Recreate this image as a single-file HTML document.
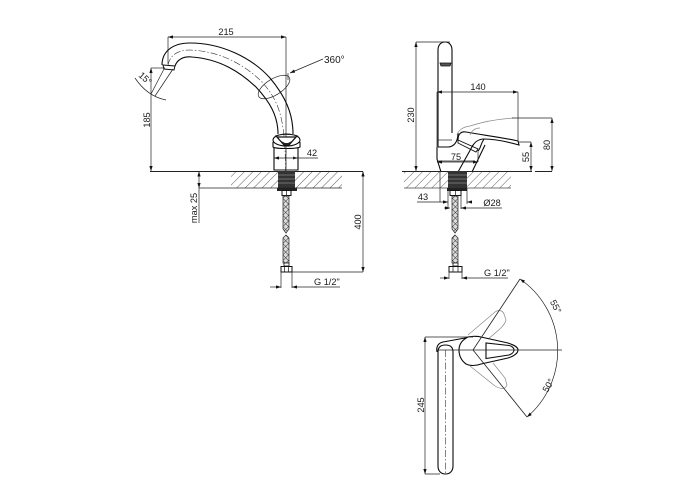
<!DOCTYPE html>
<html><head><meta charset="utf-8"><style>
html,body{margin:0;padding:0;background:#fff}
svg{display:block}
text{font-family:"Liberation Sans",sans-serif;font-size:9.200px;fill:#1a1a1a}
.o{fill:none;stroke:#0a0a0a;stroke-width:1.100}
.t{fill:none;stroke:#222;stroke-width:.7}
.c{fill:none;stroke:#333;stroke-width:.6;stroke-dasharray:7 2 1.500 2}
.g{fill:none;stroke:#888;stroke-width:.7}
</style></head><body>
<svg width="700" height="500" viewBox="0 0 700 500" xmlns="http://www.w3.org/2000/svg">
<defs>
<pattern id="hatch" width="6" height="6" patternUnits="userSpaceOnUse" patternTransform="rotate(45)"><line x1="0" y1="0" x2="0" y2="6" stroke="#333" stroke-width=".8"/></pattern>
<pattern id="hose" width="4" height="4" patternUnits="userSpaceOnUse" patternTransform="rotate(45)"><rect width="4" height="4" fill="#ddd"/><path d="M0 0H4M0 0V4" stroke="#333" stroke-width="1"/></pattern>
<marker id="a" viewBox="0 0 6 4" refX="6" refY="2" markerWidth="5" markerHeight="3.400" orient="auto-start-reverse" markerUnits="userSpaceOnUse"><path d="M0 0L6 2L0 4Z" fill="#111"/></marker>
</defs>

<!-- LEFT VIEW -->
<rect x="231" y="172" width="111" height="16" fill="url(#hatch)"/>
<path class="t" d="M168 37V64M286 37V172"/>
<path class="t" d="M168 37H286" marker-start="url(#a)" marker-end="url(#a)"/>
<text x="226" y="35" text-anchor="middle">215</text>
<ellipse class="t" cx="274" cy="87" rx="18" ry="8" transform="rotate(-32 274 87)"/>
<path class="o" d="M162 65C162 52 172 43 190 43C222 43 252 58 270 78C285 96 293 113 293 134"/>
<path class="o" d="M175 66C177 60 183 56 192 57C220 59 240 72 256 87C270 102 278 116 278 134"/>
<path class="c" d="M168 65C170 55 178 50 190 50C220 51 245 65 262 82C278 100 285.500 116 285.500 172"/>
<path d="M163 65L175 66L174 70L164 69Z" fill="#fff" stroke="#111" stroke-width="1"/>
<path class="t" d="M151 68H165"/>
<path class="t" d="M151 68V171" marker-start="url(#a)" marker-end="url(#a)"/>
<text transform="translate(150,120) rotate(-90)" text-anchor="middle">185</text>
<path class="t" d="M164 69L151 94M173 69L155 96M135 78C141 87 151 97 166 100"/>
<text transform="translate(138,76) rotate(42)">15°</text>
<path class="t" d="M323 59L290 73" marker-end="url(#a)"/>
<path class="t" d="M288 73V80"/>
<text x="324" y="63" style="font-size:10px">360°</text>
<ellipse class="o" cx="286.500" cy="140" rx="13.500" ry="6" fill="#fff"/>
<path class="o" d="M273 142V147C276 149 296 149 300 147V142"/>
<path d="M277 137H296L289 145H284Z" fill="#fff" stroke="#111" stroke-width="1.300"/>
<path d="M281 141L284 145H289L292 141L288 143H285Z" fill="#222"/>
<path class="t" d="M275 136C280 134 293 134 298 136"/>
<path class="o" d="M274 148V170H298V148"/>
<path class="t" d="M274 158H318" marker-start="url(#a)"/>
<path d="M298 158L293 156.500V159.500Z" fill="#222"/>
<text x="312" y="156" text-anchor="middle">42</text>
<path class="c" d="M286 148V196"/>
<path d="M150 171.500H363" stroke="#222" stroke-width="1"/>
<rect x="278" y="171" width="17" height="18" fill="#333"/>
<path d="M278 175H295M278 179H295M278 183H295" stroke="#888" stroke-width=".8"/>
<rect x="277" y="188" width="20" height="3" fill="#222"/>
<rect x="282" y="190.500" width="9" height="5" fill="#fff" stroke="#111"/>
<path d="M286.500 191V195" stroke="#111" stroke-width=".7"/>
<path d="M283 196H289V229L286 233L283 229Z" fill="url(#hose)" stroke="#222" stroke-width=".7"/>
<path d="M283 238L286 235L289 238V263H283Z" fill="url(#hose)" stroke="#222" stroke-width=".7"/>
<rect x="284" y="263" width="5" height="3" fill="#fff" stroke="#111" stroke-width=".8"/>
<rect x="281" y="266.500" width="11" height="5.500" fill="#fff" stroke="#111"/>
<path d="M284.500 267V272M288.500 267V272" stroke="#111" stroke-width=".7"/>
<path class="t" d="M199 188H342"/>
<path class="t" d="M199 171.500V188" marker-start="url(#a)" marker-end="url(#a)"/>
<path class="t" d="M199 188V223"/>
<text transform="translate(197,208) rotate(-90)" text-anchor="middle">max 25</text>
<path class="t" d="M292 272H363"/>
<path class="t" d="M363 171.500V272" marker-start="url(#a)" marker-end="url(#a)"/>
<text transform="translate(361,222) rotate(-90)" text-anchor="middle">400</text>
<path class="t" d="M281 272V288M292 272V288"/>
<path class="t" d="M270 287H281" marker-end="url(#a)"/>
<path class="t" d="M340 287H292" marker-end="url(#a)"/>
<text x="314" y="285">G 1/2"</text>

<!-- RIGHT VIEW -->
<rect x="404" y="172" width="107" height="16" fill="url(#hatch)"/>
<path class="o" d="M438 147V50C438 45 441 42 445 42C449 42 452 45 452 50V133"/>
<path d="M440 63H451L450 66H441Z" fill="#555" stroke="#111" stroke-width=".8"/>
<path class="t" d="M438 140H452"/>
<path class="o" d="M438 147H448C453 147 458 143 458 133"/>
<path class="o" d="M437 147V159L441 172"/>
<path class="t" d="M437 161H475"/>
<path class="o" d="M458 140C458 134 461 131 466 132C482 135 500 137 518 141L519 145C505 141 494 139 484 139C478 139 474 143 472 147"/>
<path d="M458 140L478 149L476 152L458 143Z" fill="#fff" stroke="#111" stroke-width=".9"/>
<path class="o" d="M484 139C480 145 481 148 478 151"/>
<path class="o" d="M458 172L473 145M472 172L485 145"/>
<path class="g" d="M457 135C458 131 462 127 470 126C485 121 498 119 514 118M470 135C472 130 476 128 480 128"/>
<path class="t" d="M416 42H450"/>
<path class="t" d="M416 42V171" marker-start="url(#a)" marker-end="url(#a)"/>
<text transform="translate(414,115) rotate(-90)" text-anchor="middle">230</text>
<path class="t" d="M437 92V147M518 92V142"/>
<path class="t" d="M437 92H518" marker-start="url(#a)" marker-end="url(#a)"/>
<text x="478" y="90" text-anchor="middle">140</text>
<path class="t" d="M478 150V162"/>
<path class="t" d="M437 162H478" marker-start="url(#a)" marker-end="url(#a)"/>
<text x="456" y="160" text-anchor="middle">75</text>
<path class="t" d="M518 142H531M512 118H552"/>
<path class="t" d="M531 142V171" marker-start="url(#a)" marker-end="url(#a)"/>
<text transform="translate(529,157) rotate(-90)" text-anchor="middle">55</text>
<path class="t" d="M552 118V171" marker-start="url(#a)" marker-end="url(#a)"/>
<text transform="translate(550,145) rotate(-90)" text-anchor="middle">80</text>
<path d="M402 171.500H532M535 171.500H552" stroke="#222" stroke-width="1"/>
<path d="M404 188H511" stroke="#444" stroke-width=".7"/>
<rect x="448" y="171" width="19" height="18" fill="#333"/>
<path d="M448 175H467M448 179H467M448 183H467" stroke="#888" stroke-width=".8"/>
<rect x="447" y="188" width="20" height="3" fill="#222"/>
<rect x="450" y="190.500" width="11" height="5" fill="#fff" stroke="#111"/>
<path d="M455.500 191V195" stroke="#111" stroke-width=".7"/>
<path d="M452 196H458V229L455 233L452 229Z" fill="url(#hose)" stroke="#222" stroke-width=".7"/>
<path d="M452 238L455 235L458 238V263H452Z" fill="url(#hose)" stroke="#222" stroke-width=".7"/>
<rect x="453" y="263" width="5" height="3" fill="#fff" stroke="#111" stroke-width=".8"/>
<rect x="449" y="266.500" width="13" height="5.500" fill="#fff" stroke="#111"/>
<path d="M453 267V272M458 267V272" stroke="#111" stroke-width=".7"/>
<path class="t" d="M440 172V202M467 188V204M448 190V209M461 196V209"/>
<path class="t" d="M417 202H448" marker-end="url(#a)"/>
<path class="t" d="M472 202H467" marker-end="url(#a)"/>
<text x="423" y="200" text-anchor="middle">43</text>
<path class="t" d="M444 208H450" marker-end="url(#a)"/>
<path class="t" d="M502 208H461" marker-end="url(#a)"/>
<text x="492" y="206" text-anchor="middle">Ø28</text>
<path class="t" d="M449 272V279M462 272V279"/>
<path class="t" d="M440 278H449" marker-end="url(#a)"/>
<path class="t" d="M508 278H462" marker-end="url(#a)"/>
<text x="484" y="276">G 1/2"</text>

<!-- BOTTOM VIEW -->
<path class="g" d="M468 335L495 312C499 309 503 311 504 314L506 320C505 324 503 327 488 339"/>
<path class="g" d="M470 366L495 386C500 389 505 390 507 385L505 378L493 363"/>
<path class="o" d="M438 352C438 347 441 345 445.500 345C450 345 453 347 453 352V466C453 471 450 474 445.500 474C441 474 438 471 438 466Z" fill="#fff"/>
<path class="o" d="M437 352C436 347 438 343 443 342L465 338C469 336 477 336 481 337L508 343C514 345 518 347 518 350C518 353 514 356 508 358L481 364C476 366 470 366 466 364C462 361 459 356 459 350C459 344 462 340 468 337"/>
<path class="o" d="M486 343V358.500L509 355C512 354 514 352 514 350C514 348 512 346 509 345.500Z"/>
<path d="M437 350H562" stroke="#222" stroke-width=".8"/>
<path class="c" d="M445.500 350V474"/>
<path d="M473 350L520 279M473 350L527 417" stroke="#222" stroke-width=".8" fill="none"/>
<path class="t" d="M520 279A87 87 0 0 1 527 417" marker-start="url(#a)" marker-end="url(#a)"/>
<path class="t" d="M425 337H473M425 474H440"/>
<path class="t" d="M425 337V474" marker-start="url(#a)" marker-end="url(#a)"/>
<text transform="translate(424,405) rotate(-90)" text-anchor="middle">245</text>
<text transform="translate(553,308) rotate(62)" text-anchor="middle">55°</text>
<text transform="translate(551,387) rotate(-60)" text-anchor="middle">50°</text>
</svg>
</body></html>
